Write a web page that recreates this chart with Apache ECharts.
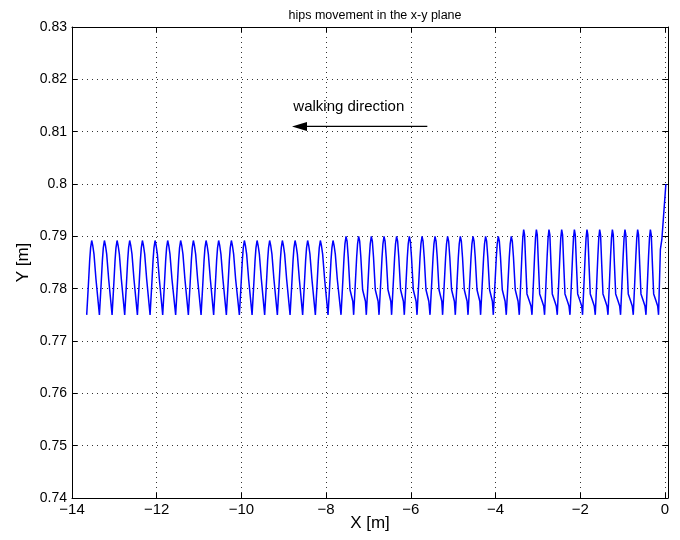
<!DOCTYPE html>
<html><head><meta charset="utf-8">
<script src="https://cdn.jsdelivr.net/npm/echarts@6/dist/echarts.min.js"></script>
<style>html,body{margin:0;padding:0;background:#fff}#c{width:680px;height:540px}</style>
</head><body><div id="c"></div>
<script>
// ---- data ----
const titleText = 'hips movement in the x-y plane';
const xName = 'X [m]';
const yName = 'Y [m]';
// x position [m] of every step's low point (y = 0.775)
const troughX = [
  -13.653, -13.353, -13.054, -12.756, -12.456, -12.157, -11.859, -11.553, -11.253, -10.953,
  -10.656, -10.356, -10.049, -9.749, -9.452, -9.152, -8.852, -8.555, -8.255, -7.956,
  -7.649, -7.351, -7.052, -6.752, -6.455, -6.155, -5.855, -5.548, -5.251, -4.951,
  -4.651, -4.354, -4.054, -3.748, -3.441, -3.141, -2.844, -2.544, -2.244, -1.947,
  -1.647, -1.347, -1.050, -0.750, -0.450, -0.153
];
// shape of each step (A: rounded, peak 0.7892 / B: peak 0.790 with knee / C: peak 0.7913 with knee)
const stepProfile = 'AAAAAAAAAAAAAAAAAAAABBBBBBBBBBBBBBCCCCCCCCCCC';
// [offset from the step's low point in m, y in m]
const profileA = [[0,0.775],[0.035,0.7800],[0.071,0.7855],[0.092,0.7878],[0.118,0.7892],[0.144,0.7882],[0.172,0.7866],[0.219,0.7818]];
const profileB = [[0,0.775],[0.035,0.7803],[0.071,0.7860],[0.092,0.7885],[0.118,0.7900],[0.142,0.7891],[0.170,0.7860],[0.212,0.7798],[0.278,0.7776]];
const profileC = [[0,0.775],[0.031,0.7805],[0.061,0.7862],[0.083,0.7897],[0.104,0.7913],[0.125,0.7903],[0.153,0.7845],[0.182,0.7790],[0.236,0.7777],[0.276,0.7767]];
// final rise after the last step
const finalRise = [[-0.110,0.7875],[-0.075,0.7894],[0.020,0.8000]];
// annotation
const annotText = 'walking direction';
const annotPos = [-8.775, 0.8148];
const arrowShaft = [[-5.612,0.811],[-8.50,0.811]];
const arrowTip = [-8.63, 0.811];

// ---- build series data ----
const profiles = {A: profileA, B: profileB, C: profileC};
const hips = [];
for (let k = 0; k < stepProfile.length; k++) {
  const p = profiles[stepProfile[k]];
  for (const [dx, y] of p) hips.push([troughX[k] + dx, y]);
}
hips.push([troughX[troughX.length - 1], 0.775]);
for (const pt of finalRise) hips.push(pt);

const FONT = 'Liberation Sans, Arial, Helvetica, sans-serif';
const gridLine = {show: true, lineStyle: {color: '#333', width: 1, type: [1, 4]}};
const axLine = {show: true, onZero: false, lineStyle: {color: '#000', width: 1}};
const axTick = {show: true, inside: true, length: 5, lineStyle: {color: '#000', width: 1}};
const minusFmt = v => (v < 0 ? '\u2212' + Math.abs(v) : String(v));

const chart = echarts.init(document.getElementById('c'), null, {renderer: 'canvas'});
chart.setOption({
  animation: false,
  backgroundColor: '#fff',
  textStyle: {fontFamily: FONT},
  title: {
    text: titleText, left: 370, top: 4, textAlign: 'center',
    textStyle: {fontSize: 12.5, fontWeight: 'normal', color: '#000', fontFamily: FONT}
  },
  grid: {left: 72, right: 12, top: 27, bottom: 42, containLabel: false, outerBoundsMode: 'none'},
  xAxis: [{
    type: 'value', min: -14, max: 0.07, interval: 2, position: 'bottom',
    axisLine: axLine, axisTick: axTick, splitLine: gridLine,
    axisLabel: {showMaxLabel: false, formatter: minusFmt, fontSize: 15, color: '#000', margin: 4, fontFamily: FONT},
    name: xName, nameLocation: 'middle', nameGap: 17, nameMoveOverlap: false,
    nameTextStyle: {fontSize: 17, color: '#000', fontFamily: FONT}
  }, {
    type: 'value', min: -14, max: 0.07, interval: 2, position: 'top',
    axisLine: axLine, axisTick: axTick, splitLine: {show: false}, axisLabel: {show: false}
  }],
  yAxis: [{
    type: 'value', min: 0.74, max: 0.83, interval: 0.01, position: 'left',
    axisLine: axLine, axisTick: axTick, splitLine: gridLine,
    axisLabel: {fontSize: 14, color: '#000', margin: 5, fontFamily: FONT},
    name: yName, nameLocation: 'middle', nameGap: 40, nameRotate: 90, nameMoveOverlap: false,
    nameTextStyle: {fontSize: 17, color: '#000', fontFamily: FONT}
  }, {
    type: 'value', min: 0.74, max: 0.83, interval: 0.01, position: 'right',
    axisLine: axLine, axisTick: axTick, splitLine: {show: false}, axisLabel: {show: false}
  }],
  series: [{
    type: 'line', name: 'hips', data: hips, symbol: 'none', xAxisIndex: 0, yAxisIndex: 0,
    lineStyle: {color: '#0000ff', width: 1.5}, z: 3
  }, {
    type: 'line', data: arrowShaft, symbol: 'none', xAxisIndex: 0, yAxisIndex: 0,
    lineStyle: {color: '#000', width: 1.3, opacity: 1}, z: 4, silent: true
  }, {
    type: 'scatter', data: [arrowTip], symbol: 'triangle', symbolSize: [9, 15], symbolRotate: 90,
    itemStyle: {color: '#000', opacity: 1}, z: 4, silent: true
  }, {
    type: 'scatter', data: [annotPos], symbolSize: 0, z: 4, silent: true,
    itemStyle: {opacity: 1},
    label: {show: true, formatter: annotText, position: [0, 0], align: 'left', verticalAlign: 'middle',
      fontSize: 15, color: '#000', opacity: 1, fontFamily: FONT}
  }]
});
</script></body></html>
